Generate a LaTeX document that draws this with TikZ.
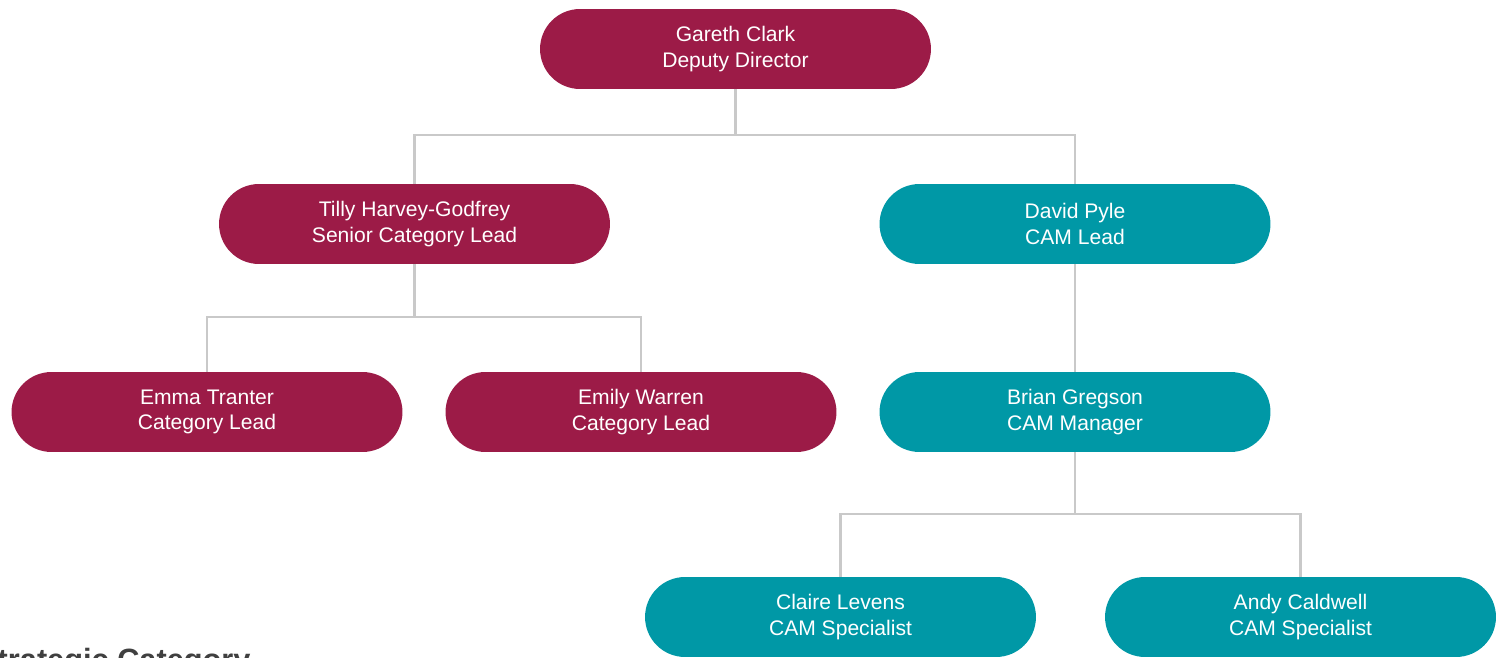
\documentclass[tikz,border=0pt]{standalone}
\usepackage{fontspec}
\setmainfont{Liberation Sans}
\usetikzlibrary{positioning,calc}
\definecolor{crimson}{HTML}{9C1B47}
\definecolor{teal}{HTML}{0098A6}
\definecolor{linkgray}{HTML}{C9C9C9}
\definecolor{darktext}{HTML}{404040}
\tikzset{%
  person/.style = {
    fill = #1,
    draw = none,
    text = white,
    rounded corners = 0.8cm,
    align = center,
    minimum width = 7.82cm,
    minimum height = 1.6cm,
    font = \fontsize{12}{14.7}\selectfont,
  },
  person/.default = {crimson},
  link/.style = {
    draw = linkgray,
    line width = 1.3pt,
  },
}

\begin{document}
\begin{tikzpicture}[x=0.02cm, y=-0.02cm]
\useasboundingbox (0,0) rectangle (1497,658);
\clip (0,0) rectangle (1497,658);

\node(gareth) [person=crimson] at (735.5,49)  {Gareth Clark\\Deputy Director};
\node(tilly)  [person=crimson] at (414.5,224) {Tilly Harvey-Godfrey\\Senior Category Lead};
\node(david)  [person=teal]    at (1075,224)  {David Pyle\\CAM Lead};
\node(emma)   [person=crimson] at (207,412)   {Emma Tranter\\Category Lead};
\node(emily)  [person=crimson] at (641,412)   {Emily Warren\\Category Lead};
\node(brian)  [person=teal]    at (1075,412)  {Brian Gregson\\CAM Manager};
\node(claire) [person=teal]    at (840.5,617) {Claire Levens\\CAM Specialist};
\node(andy)   [person=teal]    at (1300.5,617){Andy Caldwell\\CAM Specialist};
\node(title)  [anchor=base west, text=darktext, font=\fontsize{17.5}{20}\selectfont\bfseries]
  at (-29,670) {Strategic Category};

\draw[link] (gareth.south) -- ++(0,46) -| (tilly.north);
\draw[link] (gareth.south) -- ++(0,46) -| (david.north);
\draw[link] (tilly.south)  -- ++(0,53) -| (emma.north);
\draw[link] (tilly.south)  -- ++(0,53) -| (emily.north);
\draw[link] (david.south)  -- (brian.north);
\draw[link] (brian.south)  -- ++(0,62) -| (claire.north);
\draw[link] (brian.south)  -- ++(0,62) -| (andy.north);
\end{tikzpicture}
\end{document}
